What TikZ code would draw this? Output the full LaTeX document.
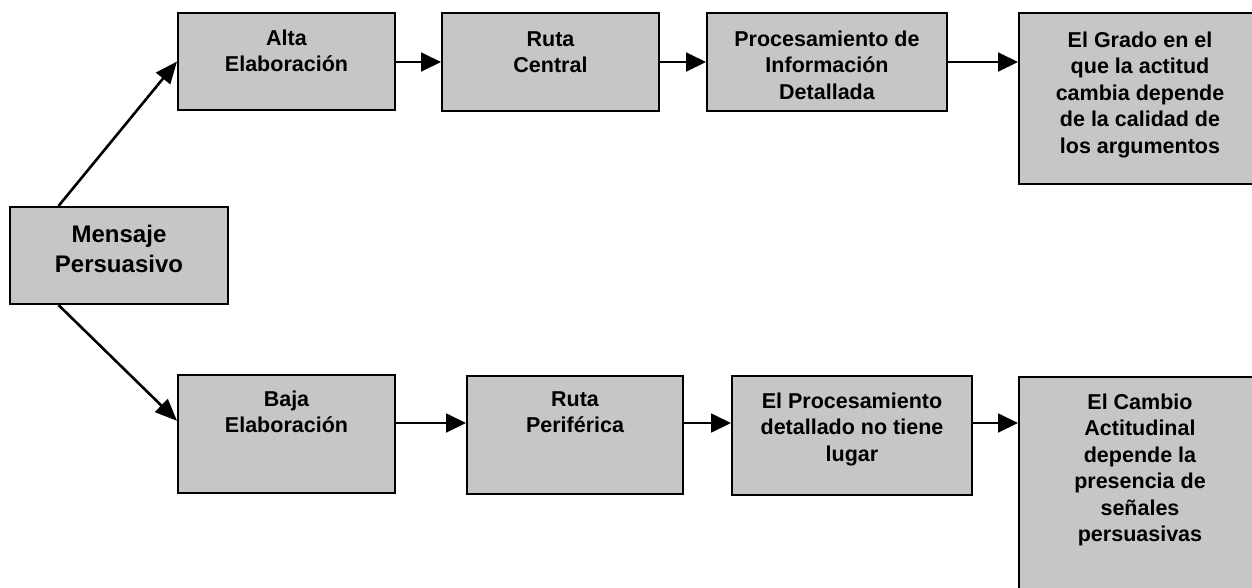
\documentclass[tikz,border=0pt]{standalone}
\usepackage{fontspec}
\setmainfont{Liberation Sans}
\usetikzlibrary{arrows.meta,calc}
\definecolor{boxgray}{RGB}{198,198,198}
\newcommand{\bt}[1]{\parbox[t]{260pt}{\centering #1}}
\begin{document}
\begin{tikzpicture}[x=1pt,y=-1pt,
  box/.style={draw=black, line width=2pt, fill=boxgray, inner sep=0pt, anchor=north west},
  lbl/.style={inner sep=0pt, anchor=base, font=\bfseries\fontsize{21.5}{26.5}\selectfont},
  biglbl/.style={inner sep=0pt, anchor=base, font=\bfseries\fontsize{24}{30}\selectfont},
  arr/.style={line width=1.8pt, -{Triangle[length=20pt,width=19pt]}},
  darr/.style={line width=2.6pt, -{Triangle[length=22pt,width=18pt]}}]
\useasboundingbox (0,0) rectangle (1252,587);
\clip (0,0) rectangle (1252,587);
\coordinate (rowa) at (0,62);
\coordinate (rowb) at (0,423);
% boxes
\node[box, minimum width=218pt, minimum height=97pt]  (msg)    at (9,206)   {};
\node[box, minimum width=217pt, minimum height=97pt]  (alta)   at (177,12)  {};
\node[box, minimum width=217pt, minimum height=98pt]  (rutac)  at (441,12)  {};
\node[box, minimum width=240pt, minimum height=98pt]  (proc)   at (706,12)  {};
\node[box, minimum width=242pt, minimum height=171pt] (grado)  at (1018,12) {};
\node[box, minimum width=217pt, minimum height=118pt] (baja)   at (177,374) {};
\node[box, minimum width=216pt, minimum height=118pt] (rutap)  at (466,375) {};
\node[box, minimum width=240pt, minimum height=119pt] (proc2)  at (731,375) {};
\node[box, minimum width=242pt, minimum height=230pt] (cambio) at (1018,376) {};
% labels
\node[biglbl] (msgT)    at ($(msg.north)+(0,36)$)    {\bt{Mensaje\\Persuasivo}};
\node[lbl]    (altaT)   at ($(alta.north)+(0,33)$)   {\bt{Alta\\Elaboración}};
\node[lbl]    (rutacT)  at ($(rutac.north)+(0,34)$)  {\bt{Ruta\\Central}};
\node[lbl]    (procT)   at ($(proc.north)+(0,34)$)   {\bt{Procesamiento de\\Información\\Detallada}};
\node[lbl]    (gradoT)  at ($(grado.north)+(0,35)$)  {\bt{El Grado en el\\que la actitud\\cambia depende\\de la calidad de\\los argumentos}};
\node[lbl]    (bajaT)   at ($(baja.north)+(0,32)$)   {\bt{Baja\\Elaboración}};
\node[lbl]    (rutapT)  at ($(rutap.north)+(0,31)$)  {\bt{Ruta\\Periférica}};
\node[lbl]    (proc2T)  at ($(proc2.north)+(0,33)$)  {\bt{El Procesamiento\\detallado no tiene\\lugar}};
\node[lbl]    (cambioT) at ($(cambio.north)+(0,33)$) {\bt{El Cambio\\Actitudinal\\depende la\\presencia de\\señales\\persuasivas}};
% connectors
\draw[darr] ($(msg.north west)!0.225!(msg.north east)$) -- (alta.west);
\draw[darr] ($(msg.south west)!0.225!(msg.south east)$) -- ($(baja.north west)!0.39!(baja.south west)$);
\draw[arr] (alta.east |- rowa) -- (rutac.west |- rowa);
\draw[arr] (rutac.east |- rowa) -- (proc.west |- rowa);
\draw[arr] (proc.east |- rowa) -- (grado.west |- rowa);
\draw[arr] (baja.east |- rowb) -- (rutap.west |- rowb);
\draw[arr] (rutap.east |- rowb) -- (proc2.west |- rowb);
\draw[arr] (proc2.east |- rowb) -- (cambio.west |- rowb);
\end{tikzpicture}
\end{document}
